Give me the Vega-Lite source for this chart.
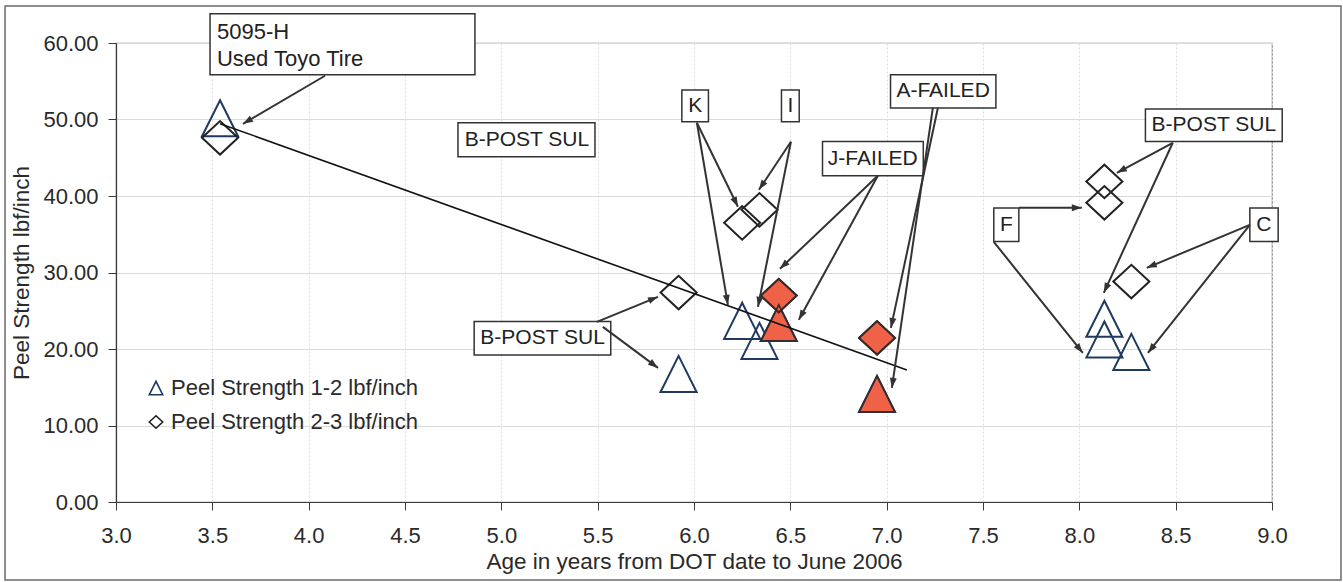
{
  "$schema": "https://vega.github.io/schema/vega-lite/v6.json",
  "width": 1156,
  "height": 459,
  "autosize": {"type": "none"},
  "padding": {"left": 116, "top": 43, "right": 71, "bottom": 80},
  "background": "white",
  "config": {
    "font": "Liberation Sans",
    "view": {"stroke": "#8a8a8a", "strokeWidth": 1.2},
    "axis": {
      "labelFont": "Liberation Sans",
      "titleFont": "Liberation Sans",
      "labelFontSize": 22,
      "titleFontSize": 22.5,
      "titleFontWeight": "normal",
      "labelColor": "#2a2a2a",
      "titleColor": "#2a2a2a",
      "domainColor": "#3a3a3a",
      "tickColor": "#3a3a3a",
      "tickSize": 8,
      "domainWidth": 1.2
    },
    "axisX": {"gridColor": "#dcdce4", "gridDash": [2, 2], "gridWidth": 1},
    "axisY": {"gridColor": "#dadada", "gridWidth": 1.2}
  },
  "datasets": {
    "frame": [{"fx1": 2.424, "fx2": 9.358, "fy1": 64.84, "fy2": -10.2}],
    "points": [
      {"age": 3.54, "peel": 50.16, "series": "Peel Strength 1-2 lbf/inch", "failed": "no"},
      {"age": 5.92, "peel": 16.74, "series": "Peel Strength 1-2 lbf/inch", "failed": "no"},
      {"age": 6.25, "peel": 23.68, "series": "Peel Strength 1-2 lbf/inch", "failed": "no"},
      {"age": 6.34, "peel": 21.06, "series": "Peel Strength 1-2 lbf/inch", "failed": "no"},
      {"age": 8.13, "peel": 23.96, "series": "Peel Strength 1-2 lbf/inch", "failed": "no"},
      {"age": 8.13, "peel": 21.23, "series": "Peel Strength 1-2 lbf/inch", "failed": "no"},
      {"age": 8.27, "peel": 19.62, "series": "Peel Strength 1-2 lbf/inch", "failed": "no"},
      {"age": 3.54, "peel": 47.61, "series": "Peel Strength 2-3 lbf/inch", "failed": "no"},
      {"age": 5.92, "peel": 27.38, "series": "Peel Strength 2-3 lbf/inch", "failed": "no"},
      {"age": 6.25, "peel": 36.49, "series": "Peel Strength 2-3 lbf/inch", "failed": "no"},
      {"age": 6.34, "peel": 38.19, "series": "Peel Strength 2-3 lbf/inch", "failed": "no"},
      {"age": 8.13, "peel": 41.9, "series": "Peel Strength 2-3 lbf/inch", "failed": "no"},
      {"age": 8.13, "peel": 39.11, "series": "Peel Strength 2-3 lbf/inch", "failed": "no"},
      {"age": 8.27, "peel": 28.82, "series": "Peel Strength 2-3 lbf/inch", "failed": "no"},
      {"age": 6.44, "peel": 23.41, "series": "Peel Strength 1-2 lbf/inch", "failed": "yes"},
      {"age": 6.95, "peel": 14.13, "series": "Peel Strength 1-2 lbf/inch", "failed": "yes"},
      {"age": 6.44, "peel": 26.98, "series": "Peel Strength 2-3 lbf/inch", "failed": "yes"},
      {"age": 6.95, "peel": 21.45, "series": "Peel Strength 2-3 lbf/inch", "failed": "yes"}
    ],
    "trend": [
      {"age": 3.54, "peel": 49.46},
      {"age": 7.105, "peel": 17.27}
    ],
    "boxes": [
      {"bx1": 3.488, "bx2": 4.863, "by1": 63.83, "by2": 55.85},
      {"bx1": 4.775, "bx2": 5.486, "by1": 49.57, "by2": 45.13},
      {"bx1": 5.937, "bx2": 6.075, "by1": 53.87, "by2": 49.7},
      {"bx1": 6.454, "bx2": 6.546, "by1": 53.87, "by2": 49.7},
      {"bx1": 7.02, "bx2": 7.567, "by1": 55.85, "by2": 51.5},
      {"bx1": 6.667, "bx2": 7.19, "by1": 47.13, "by2": 42.64},
      {"bx1": 8.343, "bx2": 9.053, "by1": 51.37, "by2": 47.13},
      {"bx1": 7.556, "bx2": 7.686, "by1": 38.42, "by2": 34.05},
      {"bx1": 8.885, "bx2": 9.032, "by1": 38.42, "by2": 34.05},
      {"bx1": 4.859, "bx2": 5.568, "by1": 23.58, "by2": 19.23}
    ],
    "notes": [
      {"label": "B-POST SUL", "tx": 5.133, "ty": 47.35},
      {"label": "K", "tx": 6.006, "ty": 51.78},
      {"label": "I", "tx": 6.5, "ty": 51.78},
      {"label": "A-FAILED", "tx": 7.293, "ty": 53.67},
      {"label": "J-FAILED", "tx": 6.928, "ty": 44.87},
      {"label": "B-POST SUL", "tx": 8.698, "ty": 49.25},
      {"label": "F", "tx": 7.621, "ty": 36.23},
      {"label": "C", "tx": 8.958, "ty": 36.23},
      {"label": "B-POST SUL", "tx": 5.214, "ty": 21.4}
    ],
    "note5095": [
      {"label": "5095-H", "tx": 3.524, "ty": 61.48},
      {"label": "Used Toyo Tire", "tx": 3.524, "ty": 57.9}
    ],
    "arrows": [
      {"sx": 4.085, "sy": 55.72, "ex": 3.659, "ey": 49.44},
      {"sx": 6.015, "sy": 49.57, "ex": 6.228, "ey": 38.59},
      {"sx": 6.015, "sy": 49.57, "ex": 6.176, "ey": 25.77},
      {"sx": 6.503, "sy": 47.09, "ex": 6.337, "ey": 40.81},
      {"sx": 6.503, "sy": 47.09, "ex": 6.332, "ey": 25.51},
      {"sx": 6.954, "sy": 42.64, "ex": 6.446, "ey": 30.48},
      {"sx": 6.954, "sy": 42.64, "ex": 6.544, "ey": 23.81},
      {"sx": 7.266, "sy": 51.54, "ex": 7.022, "ey": 22.76},
      {"sx": 7.24, "sy": 51.54, "ex": 7.027, "ey": 14.91},
      {"sx": 8.485, "sy": 46.96, "ex": 8.195, "ey": 43.03},
      {"sx": 8.485, "sy": 46.96, "ex": 8.127, "ey": 27.34},
      {"sx": 7.686, "sy": 38.46, "ex": 8.013, "ey": 38.46},
      {"sx": 7.556, "sy": 34.01, "ex": 8.018, "ey": 19.49},
      {"sx": 8.885, "sy": 36.23, "ex": 8.35, "ey": 30.61},
      {"sx": 8.885, "sy": 36.23, "ex": 8.356, "ey": 19.49},
      {"sx": 5.496, "sy": 23.54, "ex": 5.813, "ey": 26.82},
      {"sx": 5.527, "sy": 22.89, "ex": 5.813, "ey": 17.53}
    ]
  },
  "layer": [
    {
      "data": {"name": "frame"},
      "mark": {"type": "rect", "fill": null, "fillOpacity": 0, "stroke": "#6a6a6a", "strokeWidth": 1.5},
      "encoding": {
        "x": {"field": "fx1", "type": "quantitative", "scale": {"domain": [3, 9], "nice": false, "zero": false}},
        "x2": {"field": "fx2"},
        "y": {"field": "fy1", "type": "quantitative", "scale": {"domain": [0, 60], "nice": false}},
        "y2": {"field": "fy2"}
      }
    },
    {
      "data": {"name": "boxes"},
      "mark": {"type": "rect", "fill": "white", "stroke": "#333333", "strokeWidth": 1.5},
      "encoding": {
        "x": {"field": "bx1", "type": "quantitative"},
        "x2": {"field": "bx2"},
        "y": {"field": "by1", "type": "quantitative"},
        "y2": {"field": "by2"}
      }
    },
    {
      "data": {"name": "notes"},
      "mark": {"type": "text", "align": "center", "baseline": "middle", "fontSize": 21, "color": "#222222"},
      "encoding": {
        "x": {"field": "tx", "type": "quantitative"},
        "y": {"field": "ty", "type": "quantitative"},
        "text": {"field": "label"}
      }
    },
    {
      "data": {"name": "note5095"},
      "mark": {"type": "text", "align": "left", "baseline": "middle", "fontSize": 22, "color": "#222222"},
      "encoding": {
        "x": {"field": "tx", "type": "quantitative"},
        "y": {"field": "ty", "type": "quantitative"},
        "text": {"field": "label"}
      }
    },
    {
      "data": {"name": "points"},
      "mark": {"type": "point", "filled": true, "opacity": 1, "strokeWidth": 2, "size": 1300},
      "encoding": {
        "x": {
          "field": "age", "type": "quantitative",
          "title": "Age in years from DOT date to June 2006",
          "axis": {"values": [3, 3.5, 4, 4.5, 5, 5.5, 6, 6.5, 7, 7.5, 8, 8.5, 9], "format": ".1f", "labelPadding": 15, "titlePadding": 4, "labelFlush": false}
        },
        "y": {
          "field": "peel", "type": "quantitative",
          "title": "Peel Strength lbf/inch",
          "axis": {"values": [0, 10, 20, 30, 40, 50, 60], "format": ".2f", "labelPadding": 10, "titlePadding": 9, "labelFlush": false}
        },
        "shape": {
          "field": "series", "type": "nominal",
          "scale": {"domain": ["Peel Strength 1-2 lbf/inch", "Peel Strength 2-3 lbf/inch"], "range": ["M-1,1L0,-1L1,1Z", "M-1,0L0,-0.93L1,0L0,0.93Z"]},
          "legend": {
            "title": null, "orient": "none", "legendX": 29, "legendY": 334,
            "labelFontSize": 22, "labelColor": "#2a2a2a", "labelFont": "Liberation Sans", "labelLimit": 0,
            "symbolSize": 180, "symbolStrokeWidth": 1.6, "symbolFillColor": "transparent",
            "rowPadding": 12, "labelOffset": 4, "padding": 0
          }
        },
        "stroke": {
          "field": "series", "type": "nominal",
          "scale": {"domain": ["Peel Strength 1-2 lbf/inch", "Peel Strength 2-3 lbf/inch"], "range": ["#1f3a60", "#222222"]},
          "legend": {
            "title": null, "orient": "none", "legendX": 29, "legendY": 334,
            "labelFontSize": 22, "labelColor": "#2a2a2a", "labelFont": "Liberation Sans", "labelLimit": 0,
            "symbolSize": 180, "symbolStrokeWidth": 1.6, "symbolFillColor": "transparent",
            "rowPadding": 12, "labelOffset": 4, "padding": 0
          }
        },
        "fill": {
          "field": "failed", "type": "nominal",
          "scale": {"domain": ["no", "yes"], "range": ["transparent", "#ef6248"]},
          "legend": null
        }
      }
    },
    {
      "data": {"name": "points"},
      "transform": [{"filter": "datum.failed == 'yes'"}],
      "mark": {"type": "point", "filled": false, "opacity": 1, "strokeWidth": 1.6, "size": 1300, "stroke": "#3a2a2a"},
      "encoding": {
        "x": {"field": "age", "type": "quantitative"},
        "y": {"field": "peel", "type": "quantitative"},
        "shape": {"field": "series", "type": "nominal", "legend": null}
      }
    },
    {
      "data": {"name": "trend"},
      "mark": {"type": "line", "color": "#111111", "strokeWidth": 1.6},
      "encoding": {
        "x": {"field": "age", "type": "quantitative"},
        "y": {"field": "peel", "type": "quantitative"}
      }
    },
    {
      "data": {"name": "arrows"},
      "mark": {"type": "rule", "color": "#333333", "strokeWidth": 2},
      "encoding": {
        "x": {"field": "sx", "type": "quantitative"},
        "y": {"field": "sy", "type": "quantitative"},
        "x2": {"field": "ex"},
        "y2": {"field": "ey"}
      }
    },
    {
      "data": {"name": "arrows"},
      "transform": [
        {"calculate": "atan2((datum.ex - datum.sx) * 1156 / 6, (datum.ey - datum.sy) * 459 / 60) * 180 / PI", "as": "ang"}
      ],
      "mark": {"type": "point", "filled": true, "opacity": 1, "color": "#333333", "shape": "M0,0L-0.7,2L0.7,2Z", "size": 100, "strokeWidth": 0},
      "encoding": {
        "x": {"field": "ex", "type": "quantitative"},
        "y": {"field": "ey", "type": "quantitative"},
        "angle": {"field": "ang", "type": "quantitative", "scale": null}
      }
    }
  ]
}
